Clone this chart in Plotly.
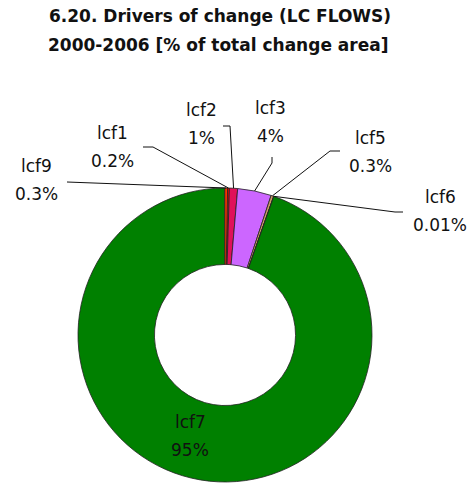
import math
import plotly.graph_objects as go

# ---- data ----
categories = ["lcf1", "lcf2", "lcf3", "lcf5", "lcf6", "lcf7", "lcf9"]
values = [0.2, 0.9, 3.7, 0.3, 0.01, 94.59, 0.3]
pct_labels = ["0.2%", "1%", "4%", "0.3%", "0.01%", "95%", "0.3%"]
colors = ["#FF0000", "#E0105A", "#CC66FF", "#CC9966", "#FFCC99", "#008000", "#FF3300"]
title_lines = ["6.20. Drivers of change (LC FLOWS)", "2000-2006 [% of total change area]"]

W, H = 476, 483
CX, CY, R = 225, 335, 147  # pie centre / radius in pixels (layout)

# label placement (pixel centres of name line; percent line is 28 px lower)
label_pos = {
    "lcf1": (112, 133), "lcf2": (201, 110), "lcf3": (270, 108),
    "lcf5": (370, 138), "lcf6": (440, 197), "lcf7": (190, 422), "lcf9": (36, 166),
}
# leader-line elbow points
elbow = {
    "lcf1": [(143, 147), (153, 147)], "lcf2": [(223, 126), (230, 126)],
    "lcf3": [(272, 157), (272, 163)], "lcf5": [(340, 151), (330, 151)],
    "lcf6": [(403, 212), (395, 212)], "lcf9": [(67, 182)],
}

def px(x):
    return x / W

def py(y):
    return 1 - y / H

fig = go.Figure(go.Pie(
    labels=categories, values=values, sort=False, direction="clockwise",
    rotation=1, hole=0.48, textinfo="none", hoverinfo="label+percent",
    marker=dict(colors=colors, line=dict(color="#222222", width=0.8)),
    domain=dict(x=[px(CX - R), px(CX + R)], y=[py(CY + R), py(CY - R)]),
    showlegend=False,
))

total = sum(values)
cum = 0.0
font = dict(family="DejaVu Sans", size=17, color="#111111")
shapes = []
annotations = []

def add_text(x, y, text, f):
    annotations.append(dict(x=px(x), y=py(y), xref="paper", yref="paper",
                            xanchor="center", yanchor="middle", text=text,
                            showarrow=False, font=f))

for cat, v, lab in zip(categories, values, pct_labels):
    start = cum
    cum += v
    mid = (start + v / 2) / total * 2 * math.pi + math.radians(1)
    lx, ly = label_pos[cat]
    add_text(lx, ly, cat, font)
    add_text(lx, ly + 28, lab, font)
    if cat not in elbow:
        continue
    ex = CX + R * math.sin(mid)
    ey = CY - R * math.cos(mid)
    pts = elbow[cat] + [(ex, ey)]
    for (x0, y0), (x1, y1) in zip(pts[:-1], pts[1:]):
        shapes.append(dict(type="line", xref="paper", yref="paper",
                           x0=px(x0), y0=py(y0), x1=px(x1), y1=py(y1),
                           line=dict(color="#111111", width=1)))

tfont = dict(family="DejaVu Sans", size=17, color="#111111")
add_text(220, 16, f"<b>{title_lines[0]}</b>", tfont)
add_text(218, 45, f"<b>{title_lines[1]}</b>", tfont)

fig.update_layout(
    width=W, height=H, margin=dict(l=0, r=0, t=0, b=0),
    paper_bgcolor="white", plot_bgcolor="white",
    shapes=shapes, annotations=annotations,
)
fig.write_html("out.html", config={"displayModeBar": False},
               post_script="document.body.style.margin='0';document.body.style.overflow='hidden';")
